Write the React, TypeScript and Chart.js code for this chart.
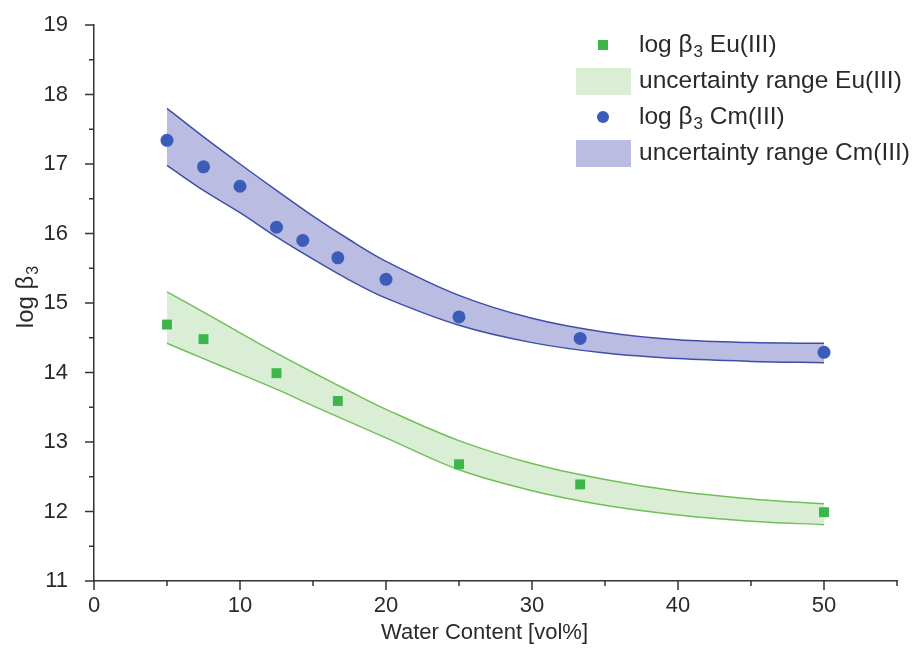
import React, { useEffect, useRef } from "react";
import { Chart, registerables } from "chart.js";

Chart.register(...registerables);

// ---- data ----
const cmX = [5, 7.5, 10, 12.5, 14.3, 16.7, 20, 25, 33.3, 50];
const cmLogBeta = [17.34, 16.96, 16.68, 16.09, 15.9, 15.65, 15.34, 14.8, 14.49, 14.29];
const euX = [5, 7.5, 12.5, 16.7, 25, 33.3, 50];
const euLogBeta = [14.69, 14.48, 13.99, 13.59, 12.68, 12.39, 11.99];

const bandX = [5, 7.5, 10, 12.5, 15, 17.5, 20, 25, 30, 35, 40, 45, 50];
const cmUpper = [17.8, 17.39, 17.0, 16.62, 16.25, 15.91, 15.6, 15.11, 14.78, 14.58, 14.47, 14.43, 14.42];
const cmLower = [16.98, 16.62, 16.3, 15.95, 15.63, 15.33, 15.07, 14.68, 14.43, 14.28, 14.2, 14.16, 14.14];
const euUpper = [15.16, 14.87, 14.57, 14.28, 14.0, 13.73, 13.47, 13.02, 12.69, 12.46, 12.29, 12.18, 12.11];
const euLower = [14.42, 14.2, 13.98, 13.76, 13.52, 13.29, 13.06, 12.6, 12.3, 12.09, 11.95, 11.86, 11.81];

const xTickLabels = [0, 10, 20, 30, 40, 50];
const yTickLabels = [11, 12, 13, 14, 15, 16, 17, 18, 19];
const xMinorTicks = [5, 15, 25, 35, 45, 55];
const yMinorTicks = [11.5, 12.5, 13.5, 14.5, 15.5, 16.5, 17.5, 18.5];

const legendItems = [
  { kind: "rect", pre: "log β", sub: "3", post: " Eu(III)" },
  { kind: "bandEu", pre: "uncertainty range Eu(III)", sub: "", post: "" },
  { kind: "circle", pre: "log β", sub: "3", post: " Cm(III)" },
  { kind: "bandCm", pre: "uncertainty range Cm(III)", sub: "", post: "" },
];

const FONT = '"Liberation Sans", Arial, Helvetica, sans-serif';
const TEXT = "#2a2a2a";
const AXIS = "#333333";
const CM_PT = "#3b5cb8";
const CM_EDGE = "#3f4fa8";
const CM_FILL = "rgba(178,181,222,0.9)";
const EU_PT = "#3cb54b";
const EU_EDGE = "#72bf5a";
const EU_FILL = "rgba(214,236,208,0.9)";

const pts = (xs: number[], ys: number[]) => xs.map((x, i) => ({ x, y: ys[i] }));

function drawSubText(ctx: CanvasRenderingContext2D, x: number, y: number, pre: string, sub: string, post: string, size: number) {
  ctx.font = `${size}px ${FONT}`;
  ctx.fillText(pre, x, y);
  let cx = x + ctx.measureText(pre).width;
  if (sub) {
    ctx.font = `${Math.round(size * 0.68)}px ${FONT}`;
    ctx.fillText(sub, cx + 1, y + size * 0.3);
    cx += ctx.measureText(sub).width + 1;
    ctx.font = `${size}px ${FONT}`;
  }
  if (post) ctx.fillText(post, cx, y);
}

const decorPlugin = {
  id: "decor",
  afterDraw(chart: any) {
    const ctx: CanvasRenderingContext2D = chart.ctx;
    const xs = chart.scales.x;
    const ys = chart.scales.y;
    const area = chart.chartArea;
    ctx.save();
    ctx.strokeStyle = AXIS;
    ctx.lineWidth = 1.5;
    const yt = [...yTickLabels.map((v) => [v, 9]), ...yMinorTicks.map((v) => [v, 5])];
    yt.forEach(([v, len]) => {
      const py = ys.getPixelForValue(v);
      ctx.beginPath();
      ctx.moveTo(area.left - len, py);
      ctx.lineTo(area.left, py);
      ctx.stroke();
    });
    const xt = [...xTickLabels.map((v) => [v, 9]), ...xMinorTicks.map((v) => [v, 5])];
    xt.forEach(([v, len]) => {
      const px = xs.getPixelForValue(v);
      ctx.beginPath();
      ctx.moveTo(px, area.bottom);
      ctx.lineTo(px, area.bottom + len);
      ctx.stroke();
    });

    // axis titles
    ctx.fillStyle = TEXT;
    ctx.textBaseline = "middle";
    ctx.textAlign = "center";
    ctx.font = `22px ${FONT}`;
    ctx.fillText("Water Content [vol%]", (area.left + area.right) / 2 - 11, 633);

    ctx.save();
    ctx.translate(26, 297);
    ctx.rotate(-Math.PI / 2);
    ctx.textAlign = "left";
    ctx.font = `24px ${FONT}`;
    const w1 = ctx.measureText("log β").width;
    ctx.font = `16px ${FONT}`;
    const w2 = ctx.measureText("3").width;
    drawSubText(ctx, -(w1 + w2 + 1) / 2, 0, "log β", "3", "", 24);
    ctx.restore();

    // legend
    ctx.textAlign = "left";
    const rowY = [45, 81, 117, 153];
    const mx = 603;
    legendItems.forEach((it, i) => {
      const y = rowY[i];
      if (it.kind === "rect") {
        ctx.fillStyle = EU_PT;
        ctx.fillRect(mx - 5, y - 5, 10, 10);
      } else if (it.kind === "circle") {
        ctx.fillStyle = CM_PT;
        ctx.beginPath();
        ctx.arc(mx, y, 6, 0, Math.PI * 2);
        ctx.fill();
      } else {
        ctx.fillStyle = it.kind === "bandEu" ? EU_FILL : CM_FILL;
        ctx.fillRect(576, y - 13, 55, 27);
      }
      ctx.fillStyle = TEXT;
      drawSubText(ctx, 639, y, it.pre, it.sub, it.post, 24.5);
    });
    ctx.restore();
  },
};

export default function App() {
  const ref = useRef<HTMLCanvasElement>(null);
  useEffect(() => {
    if (!ref.current) return;
    const bandLine = (data: any, color: string, fill: any, bg: string, order: number) => ({
      type: "line" as const,
      data,
      borderColor: color,
      borderWidth: 1.5,
      pointRadius: 0,
      tension: 0.35,
      fill,
      backgroundColor: bg,
      order,
    });
    const chart = new Chart(ref.current, {
      type: "scatter",
      data: {
        datasets: [
          {
            type: "scatter",
            data: pts(cmX, cmLogBeta),
            pointStyle: "circle",
            pointRadius: 6.5,
            backgroundColor: CM_PT,
            borderColor: CM_PT,
            borderWidth: 0,
            order: 0,
          } as any,
          {
            type: "scatter",
            data: pts(euX, euLogBeta),
            pointStyle: "rect",
            pointRadius: 7,
            backgroundColor: EU_PT,
            borderColor: EU_PT,
            borderWidth: 0,
            order: 1,
          } as any,
          bandLine(pts(bandX, cmLower), CM_EDGE, false, CM_FILL, 2),
          bandLine(pts(bandX, cmUpper), CM_EDGE, "-1", CM_FILL, 3),
          bandLine(pts(bandX, euLower), EU_EDGE, false, EU_FILL, 4),
          bandLine(pts(bandX, euUpper), EU_EDGE, "-1", EU_FILL, 5),
        ],
      },
      options: {
        responsive: false,
        animation: false,
        layout: { autoPadding: false, padding: { top: 25, right: 22, left: 0, bottom: 0 } },
        plugins: { legend: { display: false }, tooltip: { enabled: false } },
        scales: {
          x: {
            type: "linear",
            min: 0,
            max: 55,
            grid: { display: false, drawTicks: false },
            border: { display: true, color: AXIS, width: 1.5 },
            afterBuildTicks: (s: any) => {
              s.ticks = xTickLabels.map((v) => ({ value: v }));
            },
            afterFit: (s: any) => {
              s.height = 74;
              s.paddingLeft = 0;
              s.paddingRight = 0;
            },
            ticks: { padding: 12, color: TEXT, font: { family: FONT, size: 22 } },
          },
          y: {
            type: "linear",
            min: 11,
            max: 19,
            grid: { display: false, drawTicks: false },
            border: { display: true, color: AXIS, width: 1.5 },
            afterBuildTicks: (s: any) => {
              s.ticks = yTickLabels.map((v) => ({ value: v }));
            },
            afterFit: (s: any) => {
              s.width = 94;
              s.paddingTop = 0;
              s.paddingBottom = 0;
            },
            ticks: { padding: 26, color: TEXT, font: { family: FONT, size: 22 } },
          },
        },
      },
      plugins: [decorPlugin],
    });
    return () => chart.destroy();
  }, []);
  return (
    <div style={{ position: "absolute", left: 0, top: 0, width: 919, height: 655, background: "#fff" }}>
      <canvas ref={ref} width={919} height={655} style={{ display: "block" }} />
    </div>
  );
}
